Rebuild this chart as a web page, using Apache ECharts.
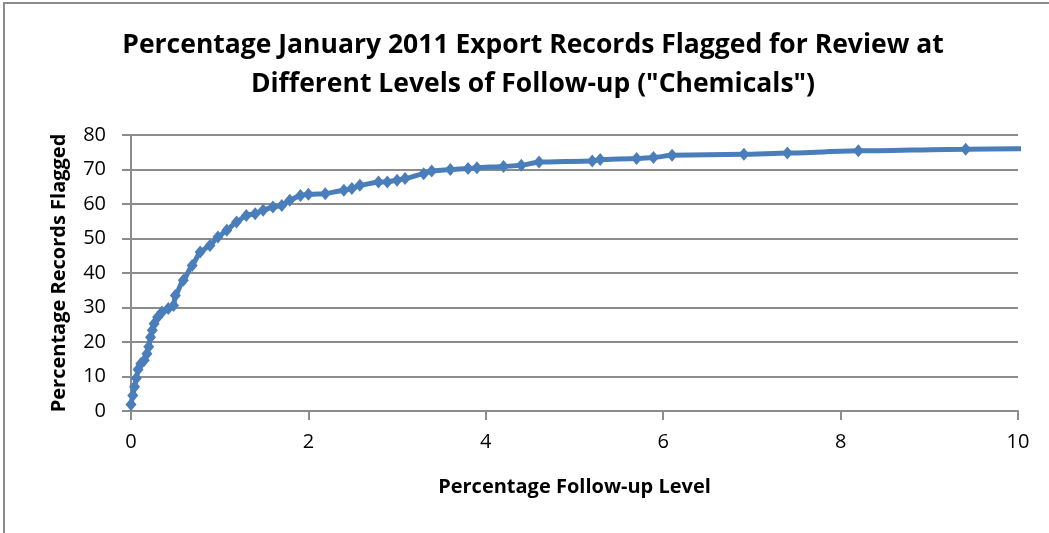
<!DOCTYPE html>
<html>
<head>
<meta charset="utf-8">
<script src="https://cdn.jsdelivr.net/npm/echarts@6/dist/echarts.min.js"></script>
<style>
  html, body { margin: 0; padding: 0; background: #fff; }
  #chart { width: 1049px; height: 533px; }
</style>
</head>
<body>
<div id="chart"></div>
<script>
// Follow-up level (% of records reviewed) and share of records flagged (%)
const followUpLevel = [0, 0.02, 0.04, 0.06, 0.08, 0.11, 0.15, 0.18, 0.2, 0.22, 0.24, 0.26, 0.3, 0.35, 0.42, 0.48, 0.5, 0.59, 0.69, 0.78, 0.89, 0.98, 1.08, 1.19, 1.3, 1.4, 1.49, 1.6, 1.7, 1.79, 1.91, 2.0, 2.19, 2.4, 2.49, 2.58, 2.79, 2.89, 3.0, 3.09, 3.3, 3.39, 3.6, 3.8, 3.9, 4.2, 4.4, 4.6, 5.2, 5.29, 5.7, 5.89, 6.1, 6.91, 7.4, 8.2, 9.41, 10.6];
const recordsFlagged = [1.9, 4.5, 7, 9.5, 12, 13.7, 14.7, 16.6, 18.6, 21.4, 23.4, 25.3, 27.2, 28.7, 29.7, 30.6, 33.5, 37.9, 42.2, 46.1, 48, 50.4, 52.4, 54.8, 56.7, 57.2, 58.2, 59.1, 59.6, 61.1, 62.5, 62.8, 63, 64, 64.5, 65.4, 66.4, 66.4, 66.9, 67.4, 68.8, 69.6, 70, 70.3, 70.5, 70.9, 71.2, 72.2, 72.5, 72.9, 73.2, 73.5, 74.1, 74.4, 74.8, 75.4, 75.9, 76.2];

const xTicks = { min: 0, max: 10, interval: 2 };
const yTicks = { min: 0, max: 80, interval: 10 };

const titleLines = ['Percentage January 2011 Export Records Flagged for Review at', 'Different Levels of Follow-up ("Chemicals")'];
const xTitle = 'Percentage Follow-up Level';
const yTitle = 'Percentage Records Flagged';

const FONT = "'Open Sans', sans-serif";
const BLUE = '#4A7EBB';
const GREY = '#8C8C8C';

const chart = echarts.init(document.getElementById('chart'), null, { renderer: 'canvas' });

chart.setOption({
  backgroundColor: '#fff',
  animation: false,
  grid: { left: 131, right: 31, top: 135, bottom: 122, containLabel: false },
  graphic: [
    { type: 'rect', shape: { x: 4, y: 3, width: 1200, height: 700 },
      style: { fill: 'none', stroke: GREY, lineWidth: 2 }, silent: true },
    { type: 'text', x: 533, y: 45,
      style: { text: titleLines[0], font: 'bold 26.5px ' + FONT, fill: '#000', textAlign: 'center', textVerticalAlign: 'middle' } },
    { type: 'text', x: 533, y: 84,
      style: { text: titleLines[1], font: 'bold 26.5px ' + FONT, fill: '#000', textAlign: 'center', textVerticalAlign: 'middle' } }
  ],
  xAxis: {
    type: 'value',
    min: xTicks.min, max: xTicks.max, interval: xTicks.interval,
    name: xTitle, nameLocation: 'middle', nameGap: 66,
    nameTextStyle: { fontFamily: FONT, fontWeight: 'bold', fontSize: 20, color: '#000' },
    axisLine: { show: true, lineStyle: { color: GREY, width: 2 } },
    axisTick: { show: true, inside: false, length: 9, lineStyle: { color: GREY, width: 2 } },
    axisLabel: { fontFamily: FONT, fontSize: 20, color: '#000', margin: 21 },
    splitLine: { show: false }
  },
  yAxis: {
    type: 'value',
    min: yTicks.min, max: yTicks.max, interval: yTicks.interval,
    name: yTitle, nameLocation: 'middle', nameGap: 62, nameRotate: 90,
    nameTextStyle: { fontFamily: FONT, fontWeight: 'bold', fontSize: 20, color: '#000' },
    axisLine: { show: true, lineStyle: { color: GREY, width: 2 } },
    axisTick: { show: true, inside: false, length: 9, lineStyle: { color: GREY, width: 2 } },
    axisLabel: { fontFamily: FONT, fontSize: 20, color: '#000', margin: 25 },
    splitLine: { show: true, lineStyle: { color: GREY, width: 2 } }
  },
  series: [{
    type: 'line',
    data: followUpLevel.map((x, i) => [x, recordsFlagged[i]]),
    smooth: 0.2,
    smoothMonotone: 'x',
    clip: true,
    symbol: 'diamond',
    symbolSize: [11, 13],
    showAllSymbol: true,
    lineStyle: { color: BLUE, width: 5 },
    itemStyle: { color: BLUE, borderWidth: 0 }
  }]
});
</script>
</body>
</html>
